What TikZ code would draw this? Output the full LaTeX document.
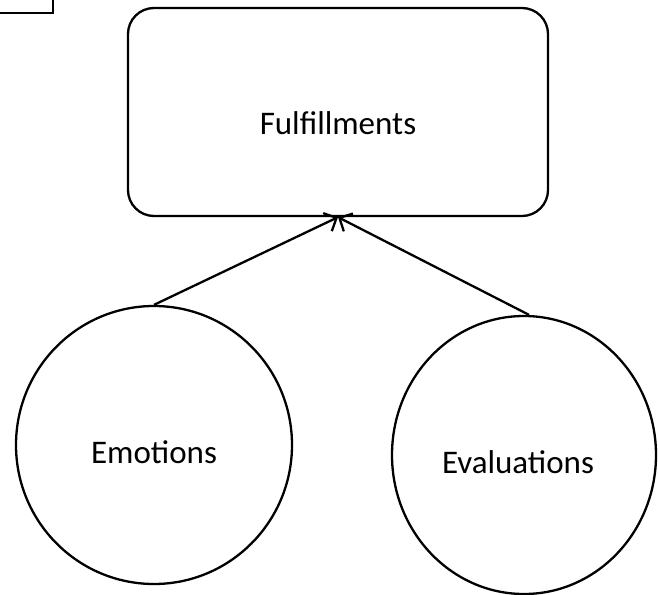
\documentclass[tikz,border=0pt]{standalone}
\usepackage{fontspec}
\setmainfont{Carlito}
\usetikzlibrary{shapes.geometric,arrows.meta}
\tikzset{
  line/.style={line width=2.3pt, black},
  txt/.style={font=\fontsize{33}{36}\selectfont},
  fbox/.style={line, draw, rounded corners=26pt, minimum width=420pt, minimum height=208pt, inner sep=0pt},
  oval/.style={line, draw, ellipse, inner sep=0pt},
  conn/.style={line, -{Straight Barb[length=10pt,width=20pt,line width=2.3pt]}}
}
\begin{document}
\begin{tikzpicture}[x=1pt,y=-1pt]
\useasboundingbox (0,0) rectangle (658,594);
\begin{scope}
\clip (0,0) rectangle (658,594);
\draw[line] (-30,-30) rectangle (53,13);
\end{scope}
\node[fbox] (ful) at (338,112) {};
\node[txt] (fultxt) at (338,123) {Fulfillments};
\node[oval, minimum width=276pt, minimum height=278pt] (emo) at (154,445) {};
\node[txt] (emotxt) at (154,452) {Emotions};
\node[oval, minimum width=264pt, minimum height=278pt] (eva) at (524,455) {};
\node[txt] (evatxt) at (518,462) {Evaluations};
\coordinate (tip) at (ful.south);
\draw[conn] (emo.north) -- (tip);
\draw[conn] ([xshift=5pt]eva.north) -- (tip);
\end{tikzpicture}
\end{document}
